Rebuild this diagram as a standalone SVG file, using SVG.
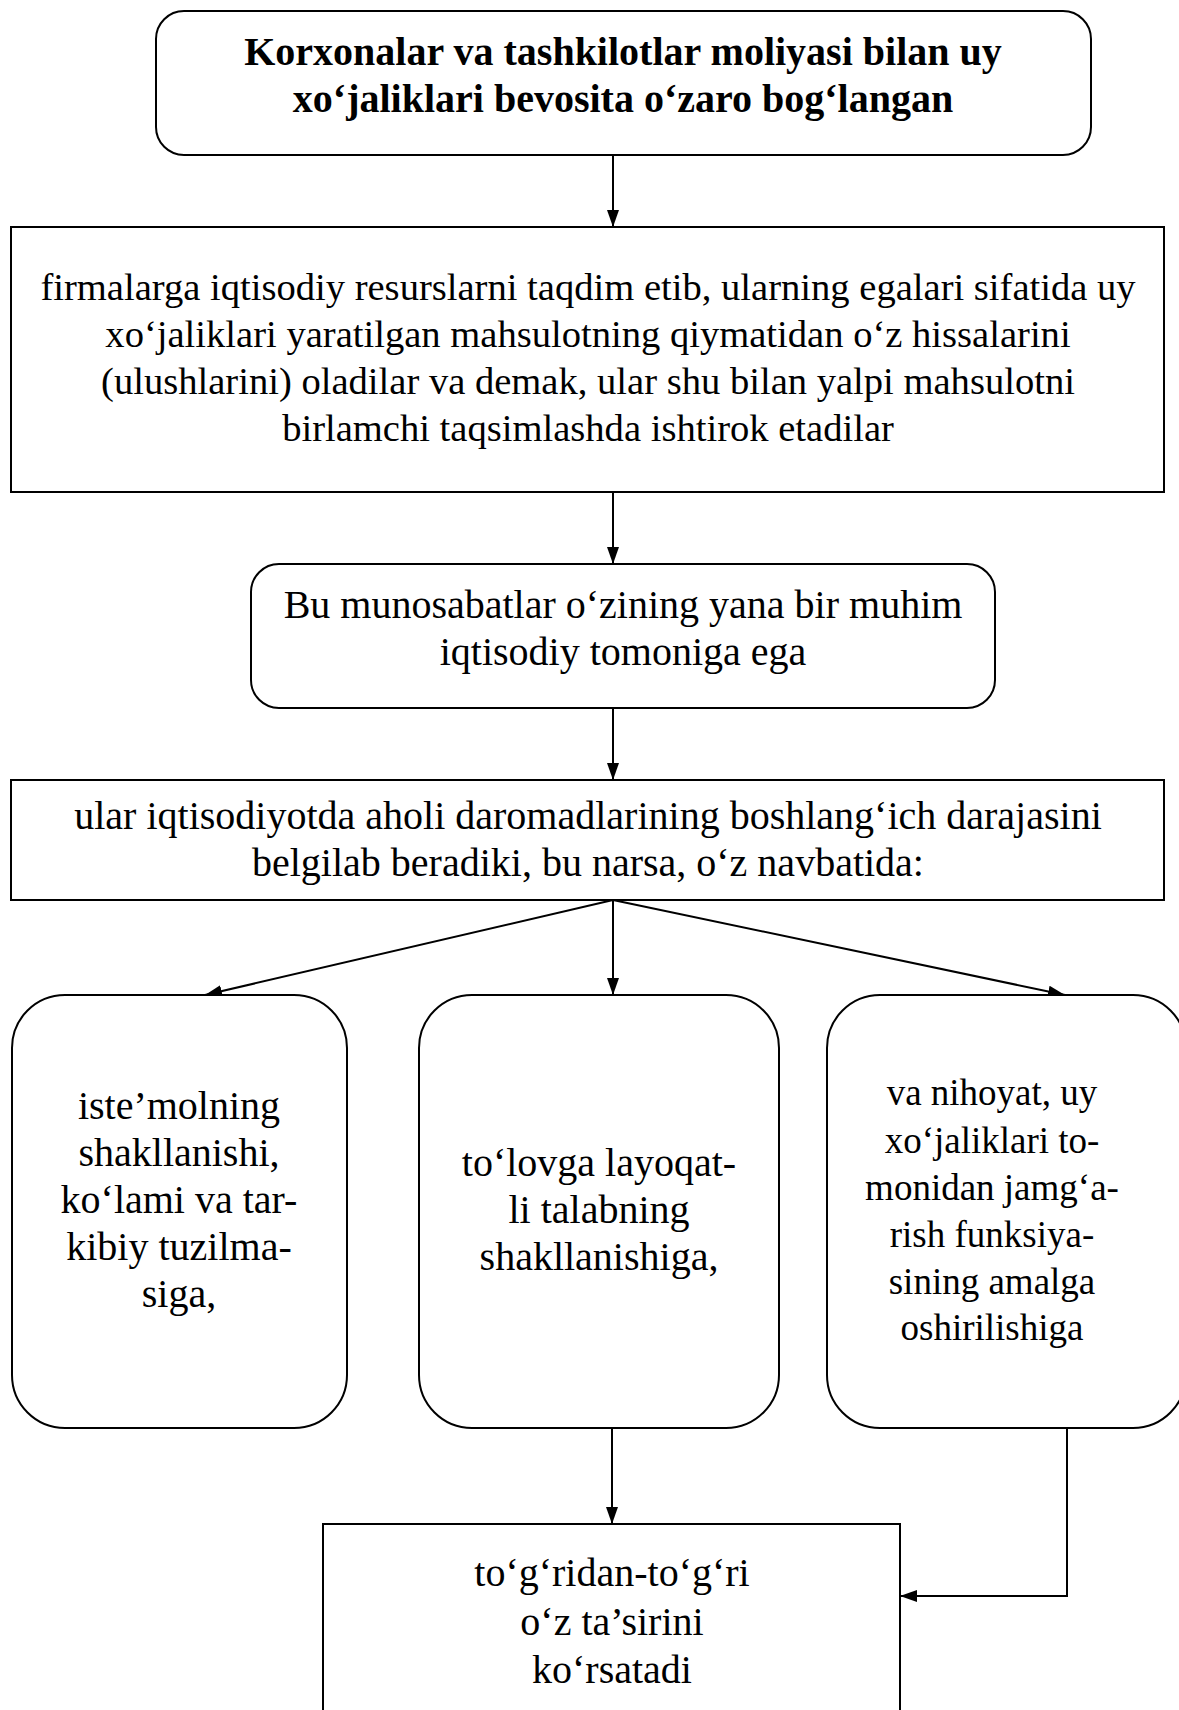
<svg xmlns="http://www.w3.org/2000/svg" width="1179" height="1710" viewBox="0 0 1179 1710">
<defs>
<style>
.box{fill:#fff;stroke:#000;stroke-width:2}
.t{font-family:"Liberation Serif","Times New Roman",serif;font-size:40px;fill:#000;text-anchor:middle}
.s{font-size:38.6px}
.r{font-size:37px}
.b{font-weight:bold}
.c{fill:none;stroke:#000;stroke-width:2}
</style>
<marker id="ah" markerUnits="userSpaceOnUse" markerWidth="18" markerHeight="14" refX="17" refY="6" orient="auto" viewBox="0 0 18 12">
<path d="M0,0 L17,6 L0,12 z" fill="#000"/>
</marker>
</defs>
<rect width="1179" height="1710" fill="#fff"/>
<g id="connectors">
<line class="c" x1="613" y1="155" x2="613" y2="227" marker-end="url(#ah)"/>
<line class="c" x1="613" y1="492" x2="613" y2="564" marker-end="url(#ah)"/>
<line class="c" x1="613" y1="708" x2="613" y2="780" marker-end="url(#ah)"/>
<line class="c" x1="613" y1="900" x2="205" y2="995" marker-end="url(#ah)"/>
<line class="c" x1="613" y1="900" x2="613" y2="995" marker-end="url(#ah)"/>
<line class="c" x1="613" y1="900" x2="1065" y2="995" marker-end="url(#ah)"/>
<line class="c" x1="612" y1="1428" x2="612" y2="1524" marker-end="url(#ah)"/>
<polyline class="c" points="1067,1428 1067,1596 900,1596" marker-end="url(#ah)"/>
</g>
<g id="n1">
<rect class="box" x="156" y="11" width="935" height="144" rx="28" ry="28"/>
<text class="t b" x="623" y="65">Korxonalar va tashkilotlar moliyasi bilan uy</text>
<text class="t b" x="623" y="112">xo‘jaliklari bevosita o‘zaro bog‘langan</text>
</g>
<g id="n2">
<rect class="box" x="11" y="227" width="1153" height="265"/>
<text class="t s" x="588" y="300">firmalarga iqtisodiy resurslarni taqdim etib, ularning egalari sifatida uy</text>
<text class="t s" x="588" y="347">xo‘jaliklari yaratilgan mahsulotning qiymatidan o‘z hissalarini</text>
<text class="t s" x="588" y="394">(ulushlarini) oladilar va demak, ular shu bilan yalpi mahsulotni</text>
<text class="t s" x="588" y="441">birlamchi taqsimlashda ishtirok etadilar</text>
</g>
<g id="n3">
<rect class="box" x="251" y="564" width="744" height="144" rx="28" ry="28"/>
<text class="t" x="623" y="618">Bu munosabatlar o‘zining yana bir muhim</text>
<text class="t" x="623" y="665">iqtisodiy tomoniga ega</text>
</g>
<g id="n4">
<rect class="box" x="11" y="780" width="1153" height="120"/>
<text class="t" x="588" y="829">ular iqtisodiyotda aholi daromadlarining boshlang‘ich darajasini</text>
<text class="t" x="588" y="876">belgilab beradiki, bu narsa, o‘z navbatida:</text>
</g>
<g id="n5">
<rect class="box" x="12" y="995" width="335" height="433" rx="53" ry="53"/>
<text class="t" x="179" y="1119">iste’molning</text>
<text class="t" x="179" y="1166">shakllanishi,</text>
<text class="t" x="179" y="1213">ko‘lami va tar-</text>
<text class="t" x="179" y="1260">kibiy tuzilma-</text>
<text class="t" x="179" y="1307">siga,</text>
</g>
<g id="n6">
<rect class="box" x="419" y="995" width="360" height="433" rx="53" ry="53"/>
<text class="t" x="599" y="1176">to‘lovga layoqat-</text>
<text class="t" x="599" y="1223">li talabning</text>
<text class="t" x="599" y="1270">shakllanishiga,</text>
</g>
<g id="n7">
<rect class="box" x="827" y="995" width="359" height="433" rx="53" ry="53"/>
<text class="t r" x="992" y="1105">va nihoyat, uy</text>
<text class="t r" x="992" y="1153">xo‘jaliklari to-</text>
<text class="t r" x="992" y="1200">monidan jamg‘a-</text>
<text class="t r" x="992" y="1247">rish funksiya-</text>
<text class="t r" x="992" y="1294">sining amalga</text>
<text class="t r" x="992" y="1340">oshirilishiga</text>
</g>
<g id="n8">
<rect class="box" x="323" y="1524" width="577" height="200"/>
<text class="t" x="612" y="1586">to‘g‘ridan-to‘g‘ri</text>
<text class="t" x="612" y="1635">o‘z ta’sirini</text>
<text class="t" x="612" y="1683">ko‘rsatadi</text>
</g>
</svg>
